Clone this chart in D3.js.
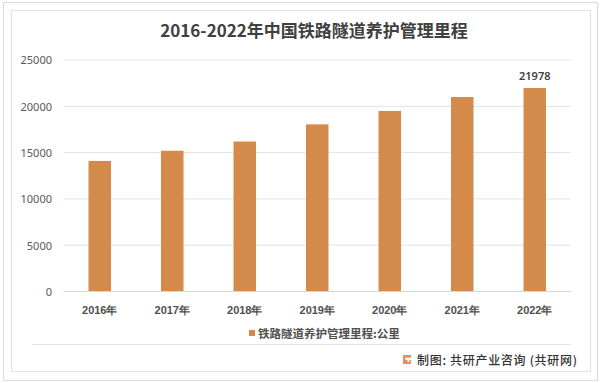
<!DOCTYPE html>
<html><head><meta charset="utf-8">
<script src="https://cdn.jsdelivr.net/npm/d3@7"></script>
<style>
html,body{margin:0;padding:0;background:#fff;}
svg{display:block;font-family:"Noto Sans CJK SC","Noto Sans",sans-serif;}
</style></head>
<body><svg id="c" width="600" height="383"></svg>
<script>
const categories = ["2016年","2017年","2018年","2019年","2020年","2021年","2022年"];
const values = [14100, 15200, 16200, 18050, 19500, 21000, 21978];
const yTicks = [0, 5000, 10000, 15000, 20000, 25000];
const labeled = ["2022年"];
const title = "2016-2022年中国铁路隧道养护管理里程";
const legendLabel = "铁路隧道养护管理里程:公里";
const source = "制图: 共研产业咨询 (共研网)";

const svg = d3.select("#c");
const m = {left: 63.5, right: 571, top: 60, bottom: 291.5};
const barColor = "#d48a4b";

// frames
svg.append("rect").attr("x",3.5).attr("y",2.5).attr("width",594).attr("height",378)
  .attr("fill","#fff").attr("stroke","#dcdcdc").attr("stroke-width",1.2);
svg.append("rect").attr("x",11.5).attr("y",10.5).attr("width",579).attr("height",361)
  .attr("fill","#fff").attr("stroke","#e2e2e2").attr("stroke-width",1);

const x = d3.scaleBand().domain(categories).range([m.left, m.right]).paddingInner(0.69).paddingOuter(0.345);
const y = d3.scaleLinear().domain([0, 25000]).range([m.bottom, m.top]);

// gridlines
svg.append("g").selectAll("line").data(yTicks.filter(d=>d>0)).join("line")
  .attr("x1", m.left).attr("x2", m.right)
  .attr("y1", d=>y(d)).attr("y2", d=>y(d))
  .attr("stroke","#e3e3e3").attr("stroke-width",1);

// y axis labels
const yAxis = d3.axisLeft(y).tickValues(yTicks).tickSize(0).tickPadding(0).tickFormat(d3.format("d"));
const gy = svg.append("g").attr("transform",`translate(52,0)`).call(yAxis);
gy.select(".domain").remove();
gy.selectAll("text").attr("font-size",11).attr("fill","#595959")
  .attr("font-family","'Noto Sans','Noto Sans CJK SC',sans-serif").attr("dy","0.35em");

// bars
svg.append("g").selectAll("rect").data(values).join("rect")
  .attr("x",(d,i)=>x(categories[i]))
  .attr("width",x.bandwidth())
  .attr("y",d=>y(d))
  .attr("height",d=>y(0)-y(d))
  .attr("fill",barColor);

// baseline
svg.append("line").attr("x1",m.left).attr("x2",m.right).attr("y1",y(0)).attr("y2",y(0))
  .attr("stroke","#d6d6d6").attr("stroke-width",1);

// x axis labels
const xAxis = d3.axisBottom(x).tickSize(0).tickPadding(0);
const gx = svg.append("g").attr("transform",`translate(0,${y(0)})`).call(xAxis);
gx.select(".domain").remove();
gx.selectAll("text").attr("font-size",11).attr("fill","#505050").attr("font-weight",600)
  .attr("y",0).attr("dy","22px");

// data label
svg.append("g").selectAll("text").data(values.map((v,i)=>({v,c:categories[i]})).filter(d=>labeled.includes(d.c)))
  .join("text")
  .attr("x",d=>x(d.c)+x.bandwidth()/2).attr("y",d=>y(d.v)-8)
  .attr("text-anchor","middle").attr("font-size",11).attr("font-weight",600).attr("fill","#404040")
  .attr("font-family","'Noto Sans',sans-serif")
  .text(d=>d.v);

// title
svg.append("text").attr("x",314).attr("y",37).attr("text-anchor","middle")
  .attr("font-size",17).attr("font-weight",700).attr("fill","#404040").text(title);

// legend
const lg = svg.append("g");
lg.append("rect").attr("x",249).attr("y",330).attr("width",6).attr("height",6).attr("fill",barColor);
lg.append("text").attr("x",258).attr("y",337.5).attr("font-size",11.5).attr("fill","#505050").attr("font-weight",600).text(legendLabel);

// footer separator
svg.append("line").attr("x1",32).attr("x2",571).attr("y1",344.5).attr("y2",344.5)
  .attr("stroke","#e3e3e3").attr("stroke-width",1);

// footer logo
const logo = svg.append("g").attr("transform","translate(403,355)");
logo.append("rect").attr("width",8).attr("height",9).attr("fill","#f08a5a");
logo.append("rect").attr("x",2.2).attr("y",2.7).attr("width",5.8).attr("height",2.2).attr("fill","#fff");
logo.append("rect").attr("x",4.5).attr("y",4.9).attr("width",1.8).attr("height",2.2).attr("fill","#fff");
svg.append("text").attr("x",417).attr("y",364.5).attr("font-size",12).attr("fill","#333")
  .attr("font-weight",500).attr("textLength",160).attr("lengthAdjust","spacing").text(source);
</script></body></html>
